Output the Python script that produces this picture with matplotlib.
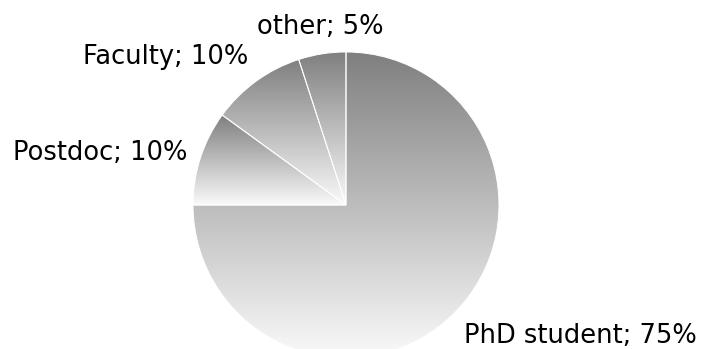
import numpy as np
import matplotlib.pyplot as plt
from matplotlib.colors import LinearSegmentedColormap

# Data
categories = ['PhD student', 'Postdoc', 'Faculty', 'other']
shares = [75, 10, 10, 5]

labels = [f'{c}; {s}%' for c, s in zip(categories, shares)]

fig = plt.figure(figsize=(7.09, 3.49), dpi=100)
ax = fig.add_axes([0, 0, 1, 1])

# pie of radius 1, ~153 px on screen, centre at (346, 205) px from top-left
r_px = 153.0
cx, cy = 346.0, 205.0

wedges, texts = ax.pie(shares, labels=labels, startangle=90, counterclock=False,
                       radius=1, labeldistance=1.09,
                       wedgeprops=dict(edgecolor='white', linewidth=0.7),
                       textprops=dict(fontsize=18.5, color='black'))
ax.axis('off')
ax.set_aspect('auto')

# vertical gray -> white gradient fill in every wedge
cmap = LinearSegmentedColormap.from_list('g', [(0.98, 0.98, 0.98), (0.5, 0.5, 0.5)])
grad = np.linspace(0, 1, 256).reshape(-1, 1)
for w in wedges:
    ext = w.get_path().get_extents()
    im = ax.imshow(grad, cmap=cmap, origin='lower', aspect='auto',
                   extent=[ext.x0, ext.x1, ext.y0, ext.y1], zorder=0.5,
                   interpolation='bilinear')
    im.set_clip_path(w)
    w.set_facecolor('none')
    w.set_zorder(1)

# label alignment tweaks
for t in texts:
    x, y = t.get_position()
    if abs(x) < 0.3:
        t.set_ha('center')
        t.set_va('bottom')
    elif y > 0.6:
        t.set_va('bottom')
    elif y < -0.6:
        t.set_va('top')

ax.set_xlim(-cx / r_px, (709 - cx) / r_px)
ax.set_ylim(-(349 - cy) / r_px, cy / r_px)

fig.savefig('out.png', dpi=100)
